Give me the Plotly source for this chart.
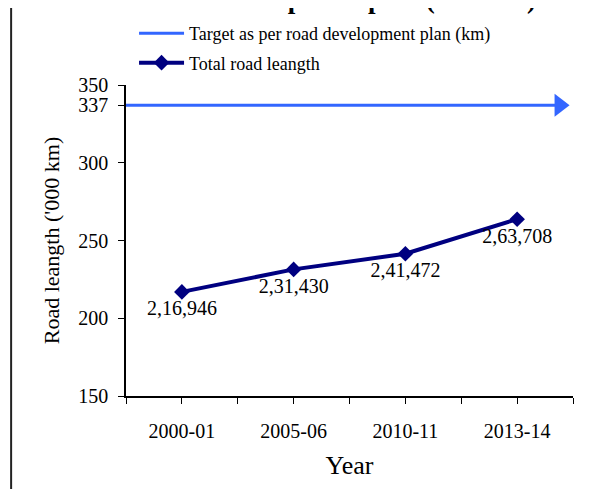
import plotly.graph_objects as go

# data
years = ["2000-01", "2005-06", "2010-11", "2013-14"]
road_length = [216.946, 231.430, 241.472, 263.708]  # '000 km
road_labels = ["2,16,946", "2,31,430", "2,41,472", "2,63,708"]
target = 337
y_ticks = [150, 200, 250, 300, 337, 350]

SERIF = "Liberation Serif, Times New Roman, serif"
x_idx = list(range(len(years)))
x_lo, x_hi = -0.5, len(years) - 0.5

fig = go.Figure()

# target line with arrow at the end
fig.add_trace(
    go.Scatter(
        x=[x_lo, x_hi - 0.14],
        y=[target, target],
        mode="lines",
        line=dict(color="#3366FF", width=3),
        name="Target as per road development plan (km)",
        legendgroup="a",
        cliponaxis=False,
    )
)
fig.add_trace(
    go.Scatter(
        x=[x_hi - 0.12],
        y=[target],
        mode="markers",
        marker=dict(symbol="triangle-right", size=20, color="#3366FF"),
        showlegend=False,
        cliponaxis=False,
    )
)

# total road length
fig.add_trace(
    go.Scatter(
        x=x_idx,
        y=road_length,
        mode="lines+markers+text",
        line=dict(color="#000080", width=4),
        marker=dict(symbol="diamond", size=12, color="#000080"),
        text=road_labels,
        textposition="bottom center",
        textfont=dict(family=SERIF, size=20, color="black"),
        name="Total road leangth",
        legendgroup="b",
        cliponaxis=False,
    )
)

# title, mostly cut off at the top of the picture
fig.add_annotation(
    text="<b>Road development plan ('000 km)</b>",
    xref="paper", yref="paper",
    x=0.922, y=1.278,
    xanchor="right", yanchor="middle",
    showarrow=False,
    font=dict(family=SERIF, size=27, color="black"),
)

# frame on the left
fig.add_shape(
    type="line", xref="paper", yref="paper",
    x0=-0.257, x1=-0.257, y0=-0.5, y1=1.5,
    line=dict(color="#222222", width=2),
)

fig.update_layout(
    width=594,
    height=489,
    margin=dict(l=118, r=29, t=77, b=101, autoexpand=False),
    paper_bgcolor="white",
    plot_bgcolor="white",
    font=dict(family=SERIF, size=20, color="black"),
    legend=dict(
        x=0.018, y=1.225,
        xanchor="left", yanchor="top",
        font=dict(family=SERIF, size=18),
        tracegroupgap=3,
        itemwidth=45,
        bgcolor="rgba(0,0,0,0)",
    ),
    showlegend=True,
)

fig.update_xaxes(
    range=[x_lo, x_hi],
    tickvals=x_idx,
    ticktext=years,
    ticks="",
    ticklabelstandoff=16,
    showline=True, linecolor="black", linewidth=1.5,
    showgrid=False, zeroline=False,
    minor=dict(ticks="outside", tick0=-0.5, dtick=0.5, ticklen=6, tickcolor="black", showgrid=False),
    title=dict(text="Year", font=dict(size=26), standoff=15),
)
fig.update_yaxes(
    range=[150, 350],
    tickvals=y_ticks,
    ticks="outside", ticklen=6, tickcolor="black",
    ticklabelstandoff=6,
    showline=True, linecolor="black", linewidth=1.5,
    showgrid=False, zeroline=False,
    title=dict(text="Road leangth ('000 km)", font=dict(size=22), standoff=13),
)

fig.write_html("out.html")
